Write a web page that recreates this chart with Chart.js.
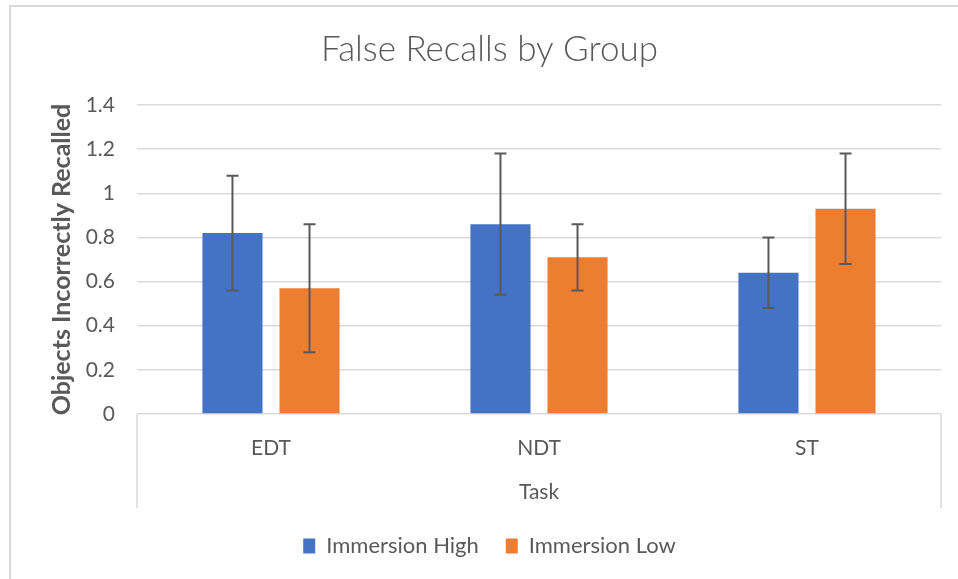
<!DOCTYPE html>
<html>
<head>
<meta charset="utf-8">
<script src="https://cdn.jsdelivr.net/npm/chart.js@4.4.1/dist/chart.umd.min.js"></script>
<style>
  html, body { margin: 0; padding: 0; background: #fff; }
  #wrap { width: 958px; height: 579px; }
</style>
</head>
<body>
<div id="wrap"><canvas id="chart" width="958" height="579"></canvas></div>
<script>
const tasks = ['EDT', 'NDT', 'ST'];
const immersionHigh = [0.82, 0.86, 0.64];
const immersionLow = [0.57, 0.71, 0.93];
const errHigh = [0.26, 0.32, 0.16];
const errLow = [0.29, 0.15, 0.25];
const yTicks = [0, 0.2, 0.4, 0.6, 0.8, 1, 1.2, 1.4];

const TEXT = '#595959';
const GRID = '#d9d9d9';
const FONT = 'Lato';

// error bars, drawn from the y scale
const errorBars = {
  id: 'errorBars',
  afterDatasetsDraw(chart) {
    const { ctx, scales: { y } } = chart;
    ctx.save();
    ctx.strokeStyle = TEXT;
    ctx.lineWidth = 2;
    chart.data.datasets.forEach((ds, i) => {
      chart.getDatasetMeta(i).data.forEach((bar, j) => {
        const top = y.getPixelForValue(ds.data[j] + ds.errors[j]);
        const bot = y.getPixelForValue(ds.data[j] - ds.errors[j]);
        ctx.beginPath();
        ctx.moveTo(bar.x, top); ctx.lineTo(bar.x, bot);
        ctx.moveTo(bar.x - 6, top); ctx.lineTo(bar.x + 6, top);
        ctx.moveTo(bar.x - 6, bot); ctx.lineTo(bar.x + 6, bot);
        ctx.stroke();
      });
    });
    ctx.restore();
  }
};

// outer chart border + the box under the category axis
const frame = {
  id: 'frame',
  beforeDraw(chart) {
    const { ctx, chartArea: a, scales: { x } } = chart;
    ctx.save();
    ctx.fillStyle = '#fff';
    ctx.fillRect(0, 0, chart.width, chart.height);
    ctx.strokeStyle = GRID;
    ctx.lineWidth = 2;
    ctx.strokeRect(10, 6, 1000, 1000);
    ctx.lineWidth = 1.5;
    ctx.beginPath();
    ctx.moveTo(a.left, a.bottom); ctx.lineTo(a.left, x.bottom);
    ctx.moveTo(a.right, a.bottom); ctx.lineTo(a.right, x.bottom);
    ctx.stroke();
    ctx.restore();
  }
};

new Chart(document.getElementById('chart'), {
  type: 'bar',
  data: {
    labels: tasks,
    datasets: [
      { label: 'Immersion High', data: immersionHigh, errors: errHigh, backgroundColor: '#4472C4' },
      { label: 'Immersion Low', data: immersionLow, errors: errLow, backgroundColor: '#ED7D31' },
    ]
  },
  options: {
    responsive: false,
    animation: false,
    categoryPercentage: 0.575,
    barPercentage: 0.78,
    layout: { padding: { left: 38, right: 17, top: 0, bottom: 12 } },
    plugins: {
      title: {
        display: true,
        text: 'False Recalls by Group',
        color: TEXT,
        font: { family: FONT, size: 35, weight: '300' },
        padding: { top: 29, bottom: 34 },
      },
      legend: {
        position: 'bottom',
        labels: {
          color: TEXT,
          font: { family: FONT, size: 22 },
          boxWidth: 12,
          boxHeight: 15,
          padding: 27,
        },
      },
      tooltip: { enabled: false },
    },
    scales: {
      x: {
        grid: { display: false, drawTicks: false },
        border: { display: false },
        ticks: { color: TEXT, font: { family: FONT, size: 21 }, padding: 22 },
        title: {
          display: true, text: 'Task', color: TEXT,
          font: { family: FONT, size: 21 },
          padding: { top: 0, bottom: 3 },
        },
        afterFit: s => { s.height = 94; },
      },
      y: {
        min: 0,
        max: 1.4,
        afterBuildTicks: s => { s.ticks = yTicks.map(v => ({ value: v })); },
        grid: { color: GRID, lineWidth: 1.5, drawTicks: false },
        border: { display: false },
        ticks: { color: TEXT, font: { family: FONT, size: 21 }, padding: 22, callback: v => String(v) },
        title: {
          display: true, text: 'Objects Incorrectly Recalled', color: TEXT,
          font: { family: FONT, size: 25, weight: 'bold' },
          padding: { top: 9, bottom: 0 },
        },
        afterFit: s => { s.width = 99; },
      },
    },
  },
  plugins: [frame, errorBars],
});
</script>
</body>
</html>
